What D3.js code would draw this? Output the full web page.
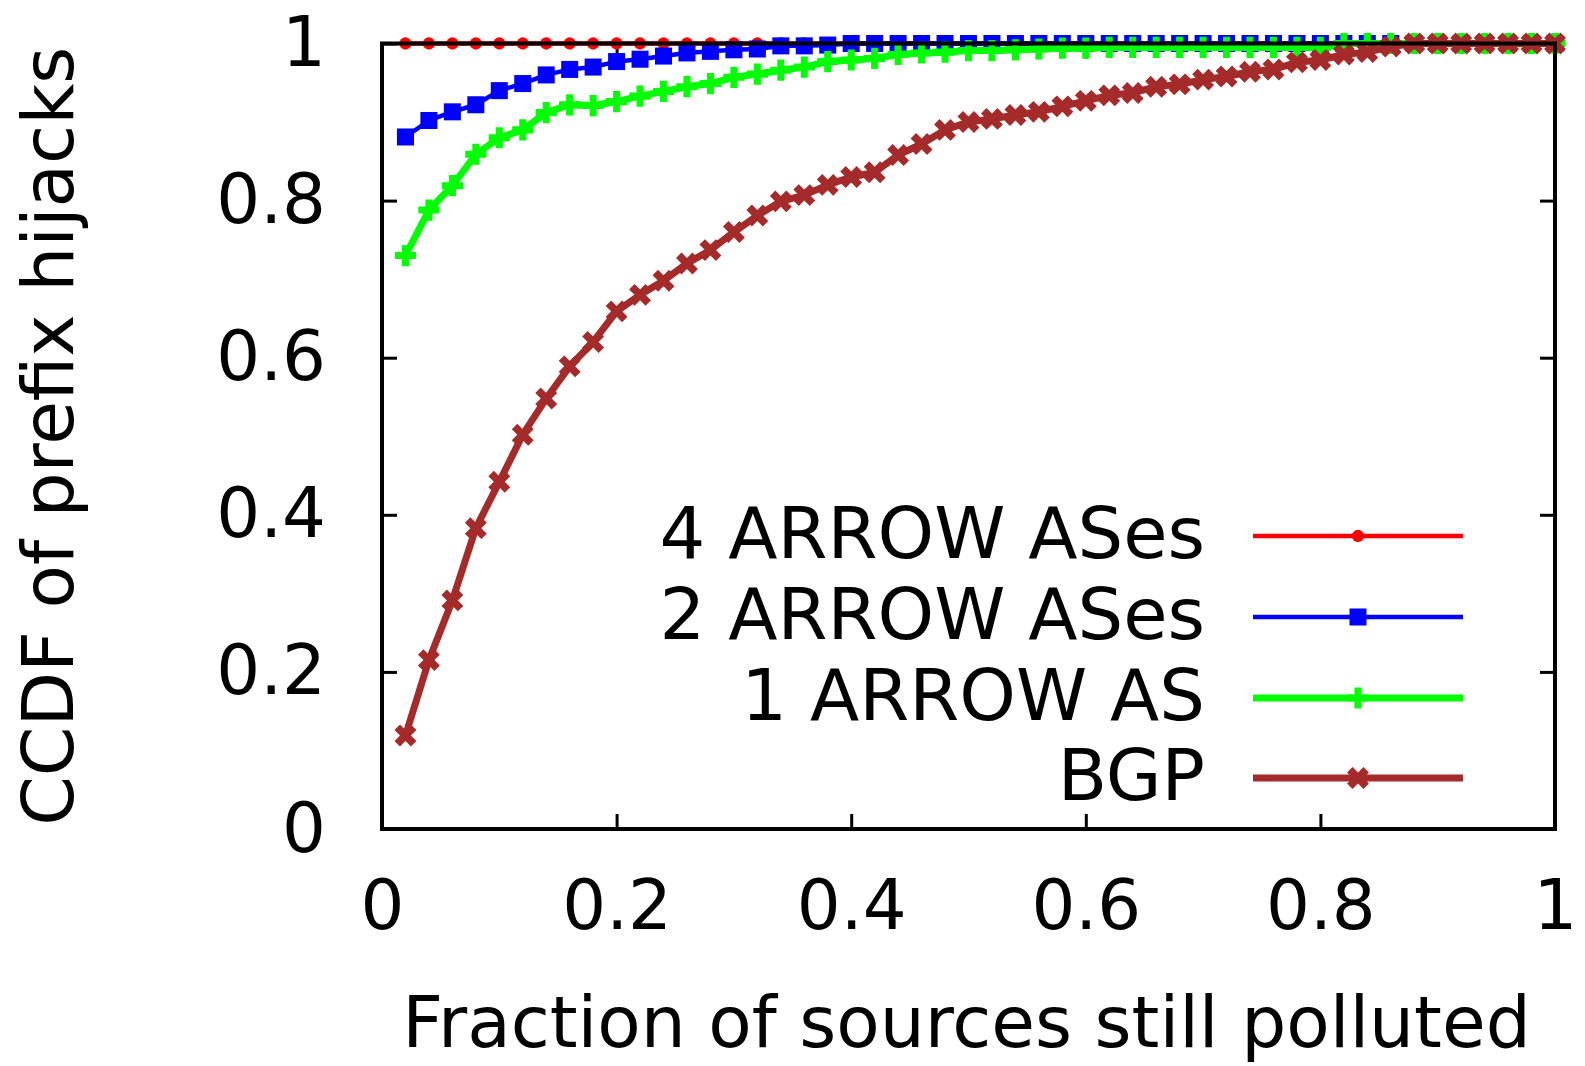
<!DOCTYPE html>
<html>
<head>
<meta charset="utf-8">
<script src="https://cdn.jsdelivr.net/npm/d3@7"></script>
<style>
  body { margin: 0; background: #fff; }
  text { font-family: "DejaVu Sans", sans-serif; fill: #000; }
</style>
</head>
<body>
<div id="chart"></div>
<script>
// fraction of sources still polluted (x positions of the points)
const fractions = [0.02, 0.04, 0.06, 0.08, 0.10, 0.12, 0.14, 0.16, 0.18, 0.20,
                   0.22, 0.24, 0.26, 0.28, 0.30, 0.32, 0.34, 0.36, 0.38, 0.40,
                   0.42, 0.44, 0.46, 0.48, 0.50, 0.52, 0.54, 0.56, 0.58, 0.60,
                   0.62, 0.64, 0.66, 0.68, 0.70, 0.72, 0.74, 0.76, 0.78, 0.80,
                   0.82, 0.84, 0.86, 0.88, 0.90, 0.92, 0.94, 0.96, 0.98, 1.00];

const arrow4 = [1, 1, 1, 1, 1, 1, 1, 1, 1, 1,
                1, 1, 1, 1, 1, 1, 1, 1, 1, 1,
                1, 1, 1, 1, 1, 1, 1, 1, 1, 1,
                1, 1, 1, 1, 1, 1, 1, 1, 1, 1,
                1, 1, 1, 1, 1, 1, 1, 1, 1, 1];

const arrow2 = [0.881, 0.902, 0.913, 0.922, 0.940, 0.949, 0.960, 0.967, 0.970, 0.977,
                0.980, 0.984, 0.988, 0.990, 0.992, 0.993, 0.997, 0.997, 0.998, 1,
                1, 1, 1, 1, 1, 1, 1, 1, 1, 1,
                1, 1, 1, 1, 1, 1, 1, 1, 1, 1,
                1, 1, 1, 1, 1, 1, 1, 1, 1, 1];

const arrow1 = [0.730, 0.788, 0.819, 0.859, 0.880, 0.890, 0.912, 0.922, 0.921, 0.926,
                0.933, 0.939, 0.945, 0.949, 0.957, 0.961, 0.966, 0.970, 0.977, 0.979,
                0.981, 0.986, 0.988, 0.989, 0.991, 0.991, 0.992, 0.993, 0.994, 0.994,
                0.995, 0.995, 0.995, 0.995, 0.995, 0.995, 0.995, 0.995, 0.995, 0.995,
                1, 1, 1, 1, 1, 1, 1, 1, 1, 1];

const bgp = [0.119, 0.215, 0.291, 0.383, 0.442, 0.502, 0.548, 0.589, 0.620, 0.659,
             0.680, 0.698, 0.720, 0.737, 0.760, 0.781, 0.799, 0.807, 0.820, 0.830,
             0.836, 0.858, 0.872, 0.890, 0.900, 0.904, 0.909, 0.913, 0.920, 0.927,
             0.934, 0.937, 0.945, 0.948, 0.954, 0.958, 0.964, 0.967, 0.976, 0.979,
             0.986, 0.989, 0.996, 1, 1, 1, 1, 1, 1, 1];

const seriesNames = ['4 ARROW ASes', '2 ARROW ASes', '1 ARROW AS', 'BGP'];
const xTicks = [0, 0.2, 0.4, 0.6, 0.8, 1];
const yTicks = [0, 0.2, 0.4, 0.6, 0.8, 1];
const tickLabels = ['0', '0.2', '0.4', '0.6', '0.8', '1'];

const width = 1585, height = 1066;
const plot = { left: 382, right: 1555, top: 43.5, bottom: 829 };

const svg = d3.select('#chart').append('svg')
    .attr('width', width)
    .attr('height', height);

const x = d3.scaleLinear().domain([0, 1]).range([plot.left, plot.right]);
const y = d3.scaleLinear().domain([0, 1]).range([plot.bottom, plot.top]);
const label = (d) => tickLabels[xTicks.indexOf(d)];

// ticks (inward, mirrored) drawn under the data like gnuplot does
function tickAxis(axis, transform, withLabels) {
    const g = svg.append('g').attr('transform', transform).call(axis);
    g.select('.domain').remove();
    g.selectAll('line').attr('stroke', '#000').attr('stroke-width', 3);
    if (withLabels) {
        g.selectAll('text').attr('font-size', 69).attr('font-family', '"DejaVu Sans", sans-serif').attr('fill', '#000');
    } else {
        g.selectAll('text').remove();
    }
    return g;
}

tickAxis(d3.axisBottom(x).tickValues(xTicks).tickFormat(label).tickSizeInner(-15).tickSizeOuter(0).tickPadding(51),
    `translate(0,${plot.bottom})`, true);
tickAxis(d3.axisTop(x).tickValues(xTicks).tickSizeInner(-15).tickSizeOuter(0),
    `translate(0,${plot.top})`, false);
tickAxis(d3.axisLeft(y).tickValues(yTicks).tickFormat(label).tickSizeInner(-15).tickSizeOuter(0).tickPadding(56),
    `translate(${plot.left},0)`, true);
tickAxis(d3.axisRight(y).tickValues(yTicks).tickSizeInner(-15).tickSizeOuter(0),
    `translate(${plot.right},0)`, false);

const series = [
    { name: seriesNames[0], values: arrow4, color: '#ff0000', lw: 4.5, symbol: d3.symbolCircle, size: 120, rotate: 0 },
    { name: seriesNames[1], values: arrow2, color: '#0000ff', lw: 4.5, symbol: d3.symbolSquare, size: 290, rotate: 0 },
    { name: seriesNames[2], values: arrow1, color: '#00ff00', lw: 7, symbol: d3.symbolCross, size: 250, rotate: 0 },
    { name: seriesNames[3], values: bgp, color: '#a52a2a', lw: 7, symbol: d3.symbolCross, size: 300, rotate: 45 }
];

const line = d3.line()
    .x((d, i) => x(fractions[i]))
    .y((d) => y(d));

series.forEach(function (s) {
    const g = svg.append('g').attr('class', 'series');
    g.append('path')
        .datum(s.values)
        .attr('fill', 'none')
        .attr('stroke', s.color)
        .attr('stroke-width', s.lw)
        .attr('stroke-linejoin', 'round')
        .attr('d', line);
    g.selectAll('path.pt').data(s.values)
        .enter()
        .append('path')
        .attr('class', 'pt')
        .attr('fill', s.color)
        .attr('d', d3.symbol().type(s.symbol).size(s.size))
        .attr('transform', (d, i) => `translate(${x(fractions[i])},${y(d)}) rotate(${s.rotate})`);
});

// border on top
svg.append('rect')
    .attr('x', plot.left)
    .attr('y', plot.top)
    .attr('width', plot.right - plot.left)
    .attr('height', plot.bottom - plot.top)
    .attr('fill', 'none')
    .attr('stroke', '#000')
    .attr('stroke-width', 4);

// legend
const legend = svg.append('g').attr('class', 'legend');
const legendRows = [536, 617, 698, 778];
series.forEach(function (s, i) {
    const ly = legendRows[i];
    legend.append('text')
        .attr('x', 1205)
        .attr('y', ly + 22)
        .attr('text-anchor', 'end')
        .attr('font-size', 72)
        .text(s.name);
    legend.append('line')
        .attr('x1', 1253).attr('x2', 1463)
        .attr('y1', ly).attr('y2', ly)
        .attr('stroke', s.color)
        .attr('stroke-width', s.lw);
    legend.append('path')
        .attr('fill', s.color)
        .attr('d', d3.symbol().type(s.symbol).size(s.size))
        .attr('transform', `translate(1358,${ly}) rotate(${s.rotate})`);
});

// axis titles
svg.append('text')
    .attr('x', (plot.left + plot.right) / 2 - 2)
    .attr('y', 1047)
    .attr('text-anchor', 'middle')
    .attr('font-size', 71)
    .text('Fraction of sources still polluted');

svg.append('text')
    .attr('transform', `translate(73,${(plot.top + plot.bottom) / 2}) rotate(-90)`)
    .attr('text-anchor', 'middle')
    .attr('font-size', 71)
    .text('CCDF of prefix hijacks');
</script>
</body>
</html>
